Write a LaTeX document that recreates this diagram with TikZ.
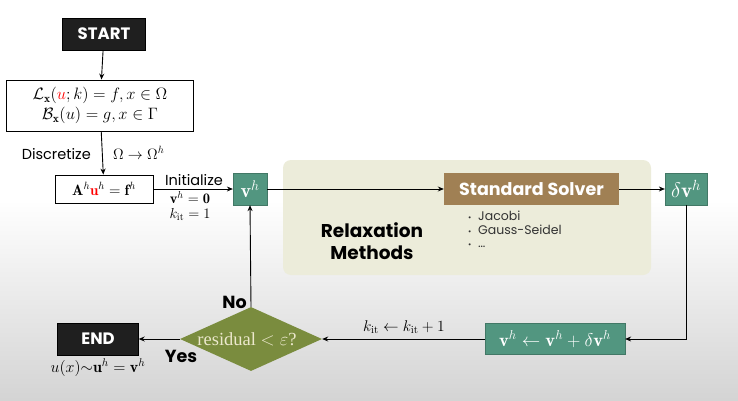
\RequirePackage{fix-cm}
\documentclass[tikz,border=0pt]{standalone}
\usepackage{fontspec}
\setsansfont{Poppins}
\newfontfamily\serifcam{Liberation Serif}
\usetikzlibrary{shapes.geometric,arrows.meta,positioning}
\definecolor{tealbox}{RGB}{82,150,128}
\definecolor{brownbox}{RGB}{160,128,84}
\definecolor{olivebox}{RGB}{122,140,62}
\definecolor{relaxbg}{RGB}{236,236,218}
\definecolor{lighttext}{RGB}{236,232,205}
\begin{document}
\begin{tikzpicture}[x=1pt,y=-1pt,
  blackbox/.style={fill=black!88,draw=black,text=white,font=\sffamily\bfseries\fontsize{16.5}{18}\selectfont,minimum width=83pt,minimum height=32pt,inner sep=0pt},
  eqbox/.style={draw=black,line width=0.8pt,fill=white,inner sep=0pt,align=center},
  tealnode/.style={fill=tealbox,draw=tealbox!80!black,line width=0.3pt,text=white,inner sep=0pt,minimum height=32pt},
  arr/.style={-{Stealth[length=6pt,width=5pt]},line width=0.9pt},
  lbl/.style={font=\sffamily\fontsize{14.5}{16}\selectfont,inner sep=0pt},
  bold/.style={font=\sffamily\bfseries\fontsize{17.5}{19}\selectfont,inner sep=0pt}
]
\useasboundingbox (0,0) rectangle (738,401);
\fill[white] (0,0) rectangle (738,401);
\shade[top color=white,bottom color=black!17] (0,200) rectangle (738,401);

% relaxation background
\node[fill=relaxbg,rounded corners=8pt,minimum width=368pt,minimum height=115pt,inner sep=0pt] (relax) at (467,217.5) {};
\node[bold,align=center,font=\sffamily\bfseries\fontsize{18.5}{22}\selectfont] (relaxtxt) at (372,241) {Relaxation\\Methods};

\node[blackbox] (start) at (104,34) {START};
\node[eqbox,minimum width=187pt,minimum height=51pt,font=\fontsize{16.5}{20}\selectfont] (pde) at (100,105.5)
  {$\mathcal{L}_{\mathbf{x}}(\textcolor{red}{u};k)=f,x\in\Omega$\\$\mathcal{B}_{\mathbf{x}}(u)=g,x\in\Gamma$};
\node[eqbox,minimum width=98pt,minimum height=28pt,font=\fontsize{15}{16}\selectfont] (disc) at (104,189)
  {$\mathbf{A}^h\textcolor{red}{\mathbf{u}}^h=\mathbf{f}^h$};
\node[tealnode,minimum width=34pt,font=\fontsize{20}{22}\selectfont] (vh) at (250,189) {$\mathbf{v}^h$};
\node[fill=brownbox,inner sep=0pt,minimum width=175pt,minimum height=32pt,text=white,font=\sffamily\bfseries\fontsize{17.5}{18}\selectfont] (solver) at (531.5,189) {Standard Solver};
\node[tealnode,minimum width=42pt,font=\fontsize{21}{22}\selectfont] (dv) at (686,189) {$\delta\mathbf{v}^h$};
\node[tealnode,minimum width=140pt,minimum height=31pt,font=\fontsize{18.5}{21}\selectfont] (upd) at (555,339) {$\mathbf{v}^h\leftarrow\mathbf{v}^h+\delta\mathbf{v}^h$};
\node[diamond,fill=olivebox,inner sep=0pt,minimum width=142pt,minimum height=64pt,aspect=2.2] (res) at (251,339) {};
\node[text=lighttext,font=\serifcam\fontsize{18.5}{20}\selectfont,inner sep=0pt] (restxt) at (247,339) {residual $<\varepsilon$?};
\node[blackbox,minimum width=81pt] (end) at (98,339) {END};

% bullets
\node[font=\sffamily\fontsize{12.5}{13.5}\selectfont,align=left,anchor=north west,inner sep=0pt,text=black!80] (bul) at (468,211)
  {{\footnotesize\textbullet}\ \ Jacobi\\{\footnotesize\textbullet}\ \ Gauss-Seidel\\{\footnotesize\textbullet}\ \ \dots};

% connectors
\draw[arr] (start) -- (pde);
\draw[arr] (pde) -- (disc);
\node[lbl,anchor=east] (dlbl) at (91,154) {Discretize};
\node[font=\fontsize{15}{16}\selectfont,inner sep=0pt,anchor=west] (omlbl) at (113,153) {$\Omega\rightarrow\Omega^h$};
\draw[arr] (disc) -- (vh);
\node[lbl] (init) at (194,180) {Initialize};
\node[font=\fontsize{14.5}{14.5}\selectfont,inner sep=0pt,align=center] (initv) at (190,206) {$\mathbf{v}^h=\mathbf{0}$\\$k_{\mathrm{it}}=1$};
\draw[arr] (vh) -- (solver);
\draw[arr] (solver) -- (dv);
\draw[arr] (dv.south) |- (upd.east);
\draw[arr] (upd) -- (res.east);
\node[font=\fontsize{15.5}{17}\selectfont,inner sep=0pt] (klbl) at (404,327) {$k_{\mathrm{it}}\leftarrow k_{\mathrm{it}}+1$};
\draw[arr] (res.north) -- (vh.south);
\node[bold,anchor=east] (no) at (247,302) {No};
\draw[arr] (res.west) -- (end.east);
\node[bold] (yes) at (181,356) {Yes};
\node[font=\fontsize{16}{17}\selectfont,inner sep=0pt] (endlbl) at (98,368) {$u(x){\sim}\mathbf{u}^h=\mathbf{v}^h$};
\end{tikzpicture}
\end{document}
